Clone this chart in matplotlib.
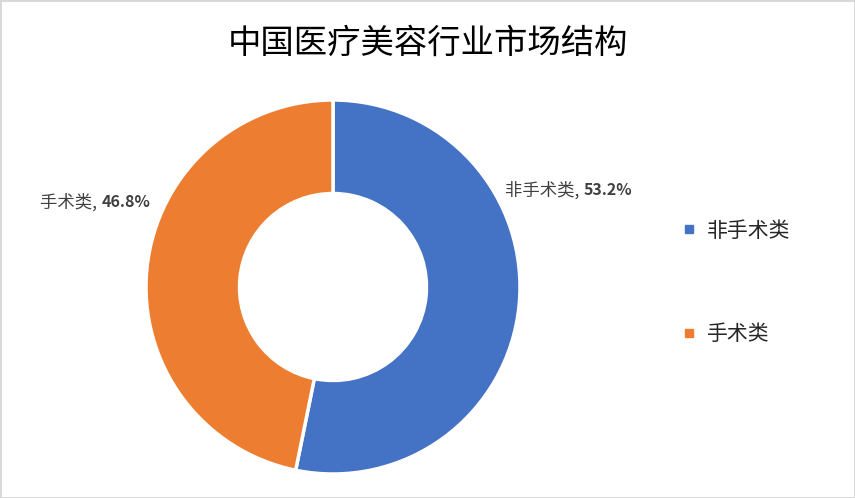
import matplotlib
matplotlib.use("Agg")
import matplotlib.pyplot as plt
from matplotlib.lines import Line2D

plt.rcParams['font.family'] = ['Noto Sans CJK SC', 'DejaVu Sans']

# data
categories = ["非手术类", "手术类"]
shares = [53.2, 46.8]
colors = ["#4472C4", "#ED7D31"]
title = "中国医疗美容行业市场结构"

W, H = 855, 498
fig = plt.figure(figsize=(W / 100, H / 100), dpi=100)
fig.patch.set_facecolor("white")
fig.patch.set_edgecolor("#d9d9d9")
fig.patch.set_linewidth(2)

# pie centre (333, 287) px, radius 187 px
cx, cy, r = 333, 287, 187
ax = fig.add_axes([(cx - r) / W, (H - cy - r) / H, 2 * r / W, 2 * r / H])
wedges, _ = ax.pie(shares, colors=colors, startangle=90, counterclock=False,
                   radius=1, wedgeprops=dict(width=0.5, edgecolor="white", linewidth=2.5))
ax.set_xlim(-1, 1)
ax.set_ylim(-1, 1)
ax.set_aspect("equal")
ax.axis("off")

fig.text(428 / W, 1 - 43 / H, title, ha="center", va="center", fontsize=24, color="black")

# data labels: category regular, value bold
lab_col = "#404040"
cat_fs = 12.5
val_fs = 11.5
# right label, left edge at x=505
t1 = ax.text((505 - cx) / r, (cy - 190) / r, categories[0] + ", ", ha="left", va="center",
             fontsize=cat_fs, color=lab_col)
ax.annotate(f"{shares[0]:.1f}%", xy=(1, 0.08), xycoords=t1, ha="left", va="bottom",
            fontsize=val_fs, fontweight="bold", color=lab_col)
# left label, right edge at x=150
t2 = ax.text((150 - cx) / r, (cy - 202) / r, f"{shares[1]:.1f}%", ha="right", va="center",
             fontsize=val_fs, fontweight="bold", color=lab_col)
ax.annotate(categories[1] + ", ", xy=(0, -0.08), xycoords=t2, ha="right", va="bottom",
            fontsize=cat_fs, color=lab_col)

handles = [Line2D([0], [0], marker="s", linestyle="none", markersize=6,
                  markerfacecolor=c, markeredgecolor=c) for c in colors]
fig.legend(handles, categories, loc="upper left", bbox_to_anchor=(662 / W, 1 - 201 / H),
           frameon=False, fontsize=15, labelspacing=3.9, handlelength=0.8,
           handletextpad=0.45, labelcolor="#262626")

fig.savefig("out.png", dpi=100)
